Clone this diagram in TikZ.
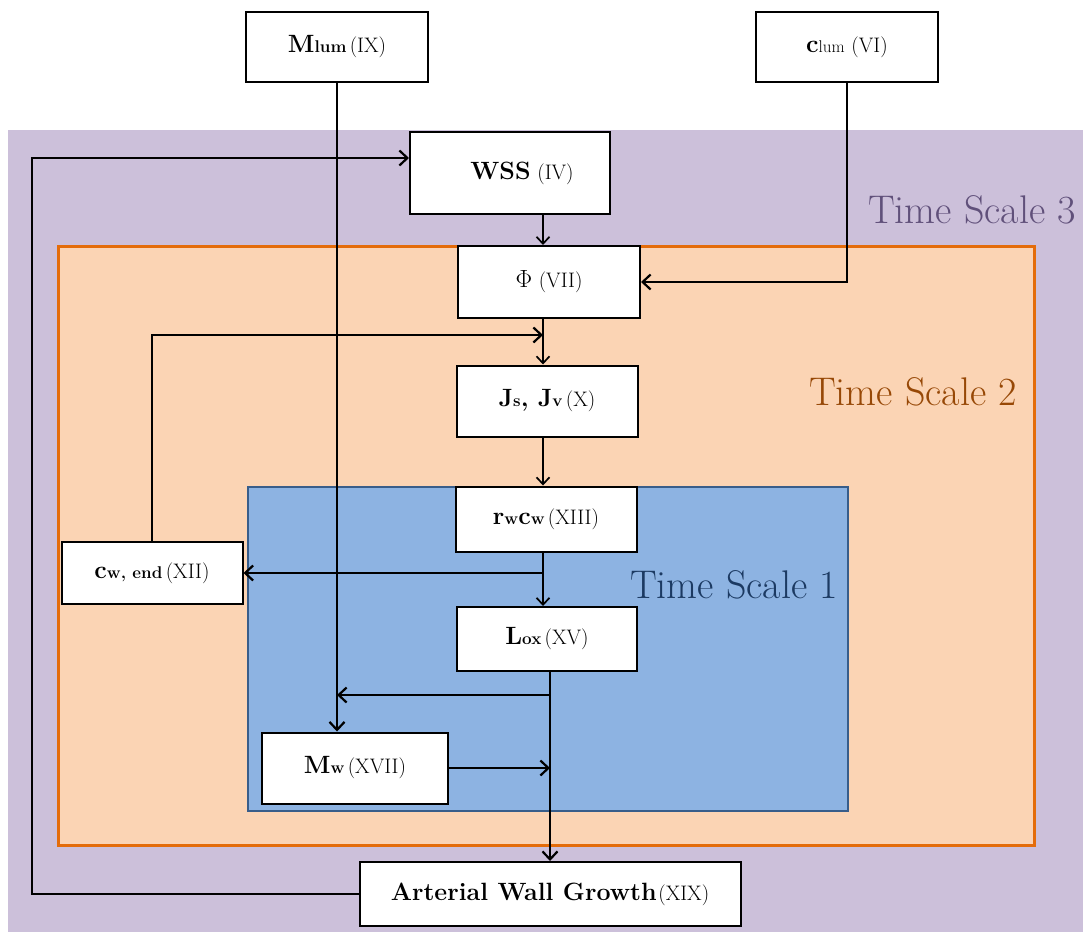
\documentclass[tikz,border=0pt]{standalone}
\usetikzlibrary{arrows.meta}
\definecolor{tsthreefill}{RGB}{204,192,218}
\definecolor{tsthreetext}{RGB}{96,80,122}
\definecolor{tstwofill}{RGB}{251,212,180}
\definecolor{tstwoline}{RGB}{228,108,10}
\definecolor{tstwotext}{RGB}{151,72,6}
\definecolor{tsonefill}{RGB}{141,179,226}
\definecolor{tsoneline}{RGB}{56,93,138}
\definecolor{tsonetext}{RGB}{28,58,98}
\newcommand\bigb[1]{{\fontsize{25}{27}\selectfont\bfseries #1}}
\newcommand\smb[1]{{\fontsize{17}{18}\selectfont\bfseries #1}}
\newcommand\smr[1]{{\fontsize{17}{18}\selectfont #1}}
\newcommand\rnum[1]{{\fontsize{21}{23}\selectfont #1}}
\newcommand\tslabel[1]{{\fontsize{40}{44}\selectfont #1}}
\begin{document}
\begin{tikzpicture}[x=1pt,y=-1pt,
  blk/.style={draw=black,fill=white,line width=2pt,inner sep=0pt,align=center},
  flow/.style={line width=2.8pt,-{Straight Barb[length=8pt,width=15pt,line width=2.2pt]}},
  thinflow/.style={line width=1.7pt,-{Straight Barb[length=7pt,width=13pt,line width=1.7pt]}}]
\useasboundingbox (0,0) rectangle (1083,932);
\fill[white] (0,0) rectangle (1083,932);

% nested time-scale regions
\fill[tsthreefill] (8,130) rectangle (1083,932);
\filldraw[fill=tstwofill,draw=tstwoline,line width=3pt] (58,246) rectangle (1034,845);
\filldraw[fill=tsonefill,draw=tsoneline,line width=2pt] (248,487) rectangle (848,811);

\node[anchor=east,text=tsthreetext,inner sep=0pt] (ts3) at (1076,210) {\tslabel{Time Scale 3}};
\node[anchor=east,text=tstwotext,inner sep=0pt] (ts2) at (1017,392) {\tslabel{Time Scale 2}};
\node[anchor=east,text=tsonetext,inner sep=0pt] (ts1) at (838,585) {\tslabel{Time Scale 1}};

% model quantities
\node[blk,minimum width=182,minimum height=70] (mlum) at (337,47) {\bigb{M}\smb{lum} \rnum{(IX)}};
\node[blk,minimum width=182,minimum height=70] (clum) at (847,47) {\bigb{c}\smr{lum}\ \ \rnum{(VI)}};
\node[blk,minimum width=200,minimum height=82] (wss) at (510,173) {\hspace*{24pt}\bigb{WSS}\ \ \rnum{(IV)}};
\node[blk,minimum width=182,minimum height=72] (phi) at (549,282) {{\fontsize{24}{26}\selectfont$\Phi$}\ \ \rnum{(VII)}};
\node[blk,minimum width=181,minimum height=71] (jsjv) at (547,401) {\bigb{J}\smb{s}\bigb{, J}\smb{v} \rnum{(X)}};
\node[blk,minimum width=181,minimum height=65] (rwcw) at (546,519) {\bigb{r}\smb{w}\bigb{c}\smb{w} \rnum{(XIII)}};
\node[blk,minimum width=181,minimum height=62] (cwend) at (152,573) {\bigb{c}\smb{w, end} \rnum{(XII)}};
\node[blk,minimum width=180,minimum height=64] (lox) at (547,639) {\bigb{L}\smb{ox} \rnum{(XV)}};
\node[blk,minimum width=186,minimum height=71] (mw) at (355,768) {\bigb{M}\smb{w} \rnum{(XVII)}};
\node[blk,minimum width=381,minimum height=64] (awg) at (550,894) {\bigb{Arterial Wall Growth}\,\rnum{(XIX)}};

% junction points of the connectors
\coordinate (colA) at (543,0);
\coordinate (colB) at (550,0);
\coordinate (fb) at (543,335);
\coordinate (spA) at (543,573);
\coordinate (spB) at (550,695);
\coordinate (loop) at (32,158);

% connectors
\draw[flow] (mlum.south) -- (mlum.south |- mw.north);
\draw[flow] (clum.south) -- (clum.south |- phi.east) -- (phi.east);
\draw[thinflow] (wss.south -| colA) -- (phi.north -| colA);
\draw[thinflow] (phi.south -| colA) -- (jsjv.north -| colA);
\draw[flow] (cwend.north) |- (fb);
\draw[thinflow] (jsjv.south -| colA) -- (rwcw.north -| colA);
\draw[thinflow] (rwcw.south -| colA) -- (lox.north -| colA);
\draw[flow] (spA) -- (cwend.east);
\draw[flow] (lox.south -| colB) -- (awg.north -| colB);
\draw[flow] (spB) -- (spB -| mlum.south);
\draw[flow] (mw.east) -- (mw.east -| colB);
\draw[flow] (awg.west) -| (loop) -- (loop -| wss.west);
\end{tikzpicture}
\end{document}
